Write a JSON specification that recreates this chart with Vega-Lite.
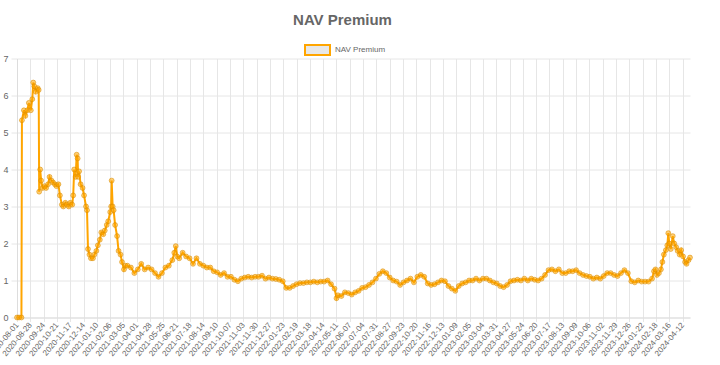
{
"$schema": "https://vega.github.io/schema/vega-lite/v6.json",
"width": 673, "height": 259,
"autosize": "none",
"padding": {"left": 17, "top": 58.5, "right": 30, "bottom": 47.5},
"background": "white",
"title": {"text": "NAV Premium", "fontSize": 15, "fontWeight": "bold", "color": "#666666", "font": "Liberation Sans", "offset": 9, "dx": -11},
"config": {"view": {"stroke": null}, "font": "Liberation Sans"},
"data": {"values": [
{"date":"2020-08-01","premium":0},{"date":"2020-08-05","premium":0},{"date":"2020-08-10","premium":0},{"date":"2020-08-11","premium":5.33},
{"date":"2020-08-15","premium":5.6},{"date":"2020-08-18","premium":5.45},{"date":"2020-08-22","premium":5.6},{"date":"2020-08-25","premium":5.8},
{"date":"2020-08-29","premium":5.6},{"date":"2020-09-01","premium":5.9},{"date":"2020-09-03","premium":6.35},{"date":"2020-09-05","premium":6.25},
{"date":"2020-09-08","premium":6.1},{"date":"2020-09-12","premium":6.2},{"date":"2020-09-14","premium":6.15},{"date":"2020-09-15","premium":3.4},
{"date":"2020-09-17","premium":4.0},{"date":"2020-09-19","premium":3.7},{"date":"2020-09-22","premium":3.5},{"date":"2020-09-26","premium":3.55},
{"date":"2020-09-29","premium":3.5},{"date":"2020-10-03","premium":3.6},{"date":"2020-10-06","premium":3.8},{"date":"2020-10-10","premium":3.7},
{"date":"2020-10-13","premium":3.65},{"date":"2020-10-17","premium":3.6},{"date":"2020-10-20","premium":3.55},{"date":"2020-10-24","premium":3.6},
{"date":"2020-10-27","premium":3.3},{"date":"2020-10-31","premium":3.05},{"date":"2020-11-03","premium":3.0},{"date":"2020-11-07","premium":3.1},
{"date":"2020-11-10","premium":3.05},{"date":"2020-11-14","premium":3.0},{"date":"2020-11-17","premium":3.1},{"date":"2020-11-21","premium":3.05},
{"date":"2020-11-23","premium":3.3},{"date":"2020-11-25","premium":4.0},{"date":"2020-11-28","premium":3.8},{"date":"2020-11-30","premium":4.4},
{"date":"2020-12-02","premium":4.3},{"date":"2020-12-03","premium":3.8},{"date":"2020-12-05","premium":3.95},{"date":"2020-12-08","premium":3.6},
{"date":"2020-12-12","premium":3.5},{"date":"2020-12-15","premium":3.3},{"date":"2020-12-19","premium":3.0},{"date":"2020-12-21","premium":2.9},
{"date":"2020-12-23","premium":1.85},{"date":"2020-12-26","premium":1.7},{"date":"2020-12-29","premium":1.6},{"date":"2021-01-02","premium":1.6},
{"date":"2021-01-05","premium":1.7},{"date":"2021-01-09","premium":1.8},{"date":"2021-01-12","premium":1.95},{"date":"2021-01-16","premium":2.1},
{"date":"2021-01-19","premium":2.3},{"date":"2021-01-23","premium":2.25},{"date":"2021-01-26","premium":2.35},{"date":"2021-01-30","premium":2.5},
{"date":"2021-02-02","premium":2.6},{"date":"2021-02-06","premium":2.85},{"date":"2021-02-08","premium":3.0},{"date":"2021-02-09","premium":3.7},
{"date":"2021-02-11","premium":3.0},{"date":"2021-02-13","premium":2.9},{"date":"2021-02-16","premium":2.5},{"date":"2021-02-20","premium":2.2},
{"date":"2021-02-23","premium":1.8},{"date":"2021-02-27","premium":1.7},{"date":"2021-03-02","premium":1.5},{"date":"2021-03-06","premium":1.3},
{"date":"2021-03-09","premium":1.4},{"date":"2021-03-13","premium":1.4},{"date":"2021-03-20","premium":1.35},{"date":"2021-03-27","premium":1.2},
{"date":"2021-04-03","premium":1.3},{"date":"2021-04-10","premium":1.45},{"date":"2021-04-17","premium":1.3},{"date":"2021-04-24","premium":1.35},
{"date":"2021-05-01","premium":1.3},{"date":"2021-05-08","premium":1.2},{"date":"2021-05-15","premium":1.1},{"date":"2021-05-22","premium":1.2},
{"date":"2021-05-29","premium":1.35},{"date":"2021-06-05","premium":1.4},{"date":"2021-06-12","premium":1.55},{"date":"2021-06-16","premium":1.75},
{"date":"2021-06-19","premium":1.93},{"date":"2021-06-22","premium":1.65},{"date":"2021-06-26","premium":1.6},{"date":"2021-07-03","premium":1.75},
{"date":"2021-07-10","premium":1.65},{"date":"2021-07-17","premium":1.6},{"date":"2021-07-24","premium":1.45},{"date":"2021-07-31","premium":1.6},
{"date":"2021-08-07","premium":1.45},{"date":"2021-08-14","premium":1.4},{"date":"2021-08-21","premium":1.35},{"date":"2021-08-28","premium":1.35},
{"date":"2021-09-04","premium":1.25},{"date":"2021-09-11","premium":1.22},{"date":"2021-09-18","premium":1.15},{"date":"2021-09-25","premium":1.2},
{"date":"2021-10-02","premium":1.1},{"date":"2021-10-09","premium":1.1},{"date":"2021-10-16","premium":1.02},{"date":"2021-10-23","premium":0.98},
{"date":"2021-10-30","premium":1.05},{"date":"2021-11-06","premium":1.08},{"date":"2021-11-13","premium":1.1},{"date":"2021-11-20","premium":1.08},
{"date":"2021-11-27","premium":1.1},{"date":"2021-12-04","premium":1.1},{"date":"2021-12-11","premium":1.13},{"date":"2021-12-18","premium":1.05},
{"date":"2021-12-25","premium":1.08},{"date":"2022-01-01","premium":1.05},{"date":"2022-01-08","premium":1.04},{"date":"2022-01-15","premium":1.02},
{"date":"2022-01-22","premium":0.98},{"date":"2022-01-29","premium":0.8},{"date":"2022-02-05","premium":0.8},{"date":"2022-02-12","premium":0.85},
{"date":"2022-02-19","premium":0.9},{"date":"2022-02-26","premium":0.93},{"date":"2022-03-05","premium":0.93},{"date":"2022-03-12","premium":0.95},
{"date":"2022-03-19","premium":0.95},{"date":"2022-03-26","premium":0.97},{"date":"2022-04-02","premium":0.95},{"date":"2022-04-09","premium":0.97},
{"date":"2022-04-16","premium":0.97},{"date":"2022-04-23","premium":1.0},{"date":"2022-04-30","premium":0.9},{"date":"2022-05-07","premium":0.78},
{"date":"2022-05-11","premium":0.52},{"date":"2022-05-14","premium":0.6},{"date":"2022-05-21","premium":0.58},{"date":"2022-05-28","premium":0.68},
{"date":"2022-06-04","premium":0.66},{"date":"2022-06-11","premium":0.62},{"date":"2022-06-18","premium":0.68},{"date":"2022-06-25","premium":0.72},
{"date":"2022-07-02","premium":0.8},{"date":"2022-07-09","premium":0.82},{"date":"2022-07-16","premium":0.88},{"date":"2022-07-23","premium":0.95},
{"date":"2022-07-30","premium":1.05},{"date":"2022-08-06","premium":1.18},{"date":"2022-08-13","premium":1.25},{"date":"2022-08-20","premium":1.2},
{"date":"2022-08-27","premium":1.08},{"date":"2022-09-03","premium":1.0},{"date":"2022-09-10","premium":0.97},{"date":"2022-09-17","premium":0.88},
{"date":"2022-09-24","premium":0.95},{"date":"2022-10-01","premium":1.0},{"date":"2022-10-08","premium":1.05},{"date":"2022-10-15","premium":0.95},
{"date":"2022-10-22","premium":1.1},{"date":"2022-10-29","premium":1.15},{"date":"2022-11-05","premium":1.1},{"date":"2022-11-12","premium":0.92},
{"date":"2022-11-19","premium":0.88},{"date":"2022-11-26","premium":0.9},{"date":"2022-12-03","premium":0.95},{"date":"2022-12-10","premium":1.0},
{"date":"2022-12-17","premium":0.98},{"date":"2022-12-24","premium":0.85},{"date":"2022-12-31","premium":0.78},{"date":"2023-01-07","premium":0.72},
{"date":"2023-01-14","premium":0.85},{"date":"2023-01-21","premium":0.92},{"date":"2023-01-28","premium":0.95},{"date":"2023-02-04","premium":1.0},
{"date":"2023-02-11","premium":1.0},{"date":"2023-02-18","premium":1.05},{"date":"2023-02-25","premium":1.0},{"date":"2023-03-04","premium":1.05},
{"date":"2023-03-11","premium":1.05},{"date":"2023-03-18","premium":1.0},{"date":"2023-03-25","premium":0.95},{"date":"2023-04-01","premium":0.92},
{"date":"2023-04-08","premium":0.85},{"date":"2023-04-15","premium":0.82},{"date":"2023-04-22","premium":0.88},{"date":"2023-04-29","premium":0.98},
{"date":"2023-05-06","premium":1.0},{"date":"2023-05-13","premium":1.02},{"date":"2023-05-20","premium":1.0},{"date":"2023-05-27","premium":1.05},
{"date":"2023-06-03","premium":1.0},{"date":"2023-06-10","premium":1.05},{"date":"2023-06-17","premium":1.02},{"date":"2023-06-24","premium":1.0},
{"date":"2023-07-01","premium":1.05},{"date":"2023-07-08","premium":1.15},{"date":"2023-07-15","premium":1.28},{"date":"2023-07-22","premium":1.3},
{"date":"2023-07-29","premium":1.25},{"date":"2023-08-05","premium":1.3},{"date":"2023-08-12","premium":1.2},{"date":"2023-08-19","premium":1.2},
{"date":"2023-08-26","premium":1.25},{"date":"2023-09-02","premium":1.25},{"date":"2023-09-09","premium":1.28},{"date":"2023-09-16","premium":1.2},
{"date":"2023-09-23","premium":1.15},{"date":"2023-09-30","premium":1.12},{"date":"2023-10-07","premium":1.1},{"date":"2023-10-14","premium":1.05},
{"date":"2023-10-21","premium":1.08},{"date":"2023-10-28","premium":1.05},{"date":"2023-11-04","premium":1.12},{"date":"2023-11-11","premium":1.2},
{"date":"2023-11-18","premium":1.2},{"date":"2023-11-25","premium":1.15},{"date":"2023-12-02","premium":1.12},{"date":"2023-12-09","premium":1.2},
{"date":"2023-12-16","premium":1.28},{"date":"2023-12-23","premium":1.2},{"date":"2023-12-30","premium":0.98},{"date":"2024-01-06","premium":0.95},
{"date":"2024-01-13","premium":1.0},{"date":"2024-01-20","premium":0.97},{"date":"2024-01-27","premium":0.97},{"date":"2024-02-03","premium":0.97},
{"date":"2024-02-10","premium":1.05},{"date":"2024-02-14","premium":1.25},{"date":"2024-02-17","premium":1.3},{"date":"2024-02-20","premium":1.15},
{"date":"2024-02-24","premium":1.2},{"date":"2024-02-28","premium":1.3},{"date":"2024-03-02","premium":1.5},{"date":"2024-03-05","premium":1.7},
{"date":"2024-03-09","premium":1.82},{"date":"2024-03-12","premium":1.95},{"date":"2024-03-14","premium":2.28},{"date":"2024-03-16","premium":2.0},
{"date":"2024-03-19","premium":1.85},{"date":"2024-03-23","premium":2.2},{"date":"2024-03-26","premium":2.0},{"date":"2024-03-30","premium":1.9},
{"date":"2024-04-02","premium":1.8},{"date":"2024-04-06","premium":1.7},{"date":"2024-04-09","premium":1.82},{"date":"2024-04-13","premium":1.65},
{"date":"2024-04-17","premium":1.5},{"date":"2024-04-20","premium":1.45},{"date":"2024-04-24","premium":1.55},{"date":"2024-04-27","premium":1.62}
]},
"encoding": {
  "x": {"field": "date", "type": "temporal",
    "scale": {"type": "utc", "domain": [{"year":2020,"month":8,"date":1,"utc":true},{"year":2024,"month":4,"date":27,"utc":true}]},
    "axis": {"title": null, "format": "%Y-%m-%d", "labelAngle": -50, "labelFontSize": 8, "labelColor": "#666666",
      "gridColor": "#e6e6e6", "domainColor": "#dddddd", "tickColor": "#e6e6e6", "tickSize": 4, "labelPadding": 2, "labelOverlap": false, "labelFlush": false,
      "values": [
        {"year":2020,"month":8,"date":1,"utc":true},{"year":2020,"month":8,"date":28,"utc":true},{"year":2020,"month":9,"date":24,"utc":true},
        {"year":2020,"month":10,"date":21,"utc":true},{"year":2020,"month":11,"date":17,"utc":true},{"year":2020,"month":12,"date":14,"utc":true},
        {"year":2021,"month":1,"date":10,"utc":true},{"year":2021,"month":2,"date":6,"utc":true},{"year":2021,"month":3,"date":5,"utc":true},
        {"year":2021,"month":4,"date":1,"utc":true},{"year":2021,"month":4,"date":28,"utc":true},{"year":2021,"month":5,"date":25,"utc":true},
        {"year":2021,"month":6,"date":21,"utc":true},{"year":2021,"month":7,"date":18,"utc":true},{"year":2021,"month":8,"date":14,"utc":true},
        {"year":2021,"month":9,"date":10,"utc":true},{"year":2021,"month":10,"date":7,"utc":true},{"year":2021,"month":11,"date":3,"utc":true},
        {"year":2021,"month":11,"date":30,"utc":true},{"year":2021,"month":12,"date":27,"utc":true},{"year":2022,"month":1,"date":23,"utc":true},
        {"year":2022,"month":2,"date":19,"utc":true},{"year":2022,"month":3,"date":18,"utc":true},{"year":2022,"month":4,"date":14,"utc":true},
        {"year":2022,"month":5,"date":11,"utc":true},{"year":2022,"month":6,"date":7,"utc":true},{"year":2022,"month":7,"date":4,"utc":true},
        {"year":2022,"month":7,"date":31,"utc":true},{"year":2022,"month":8,"date":27,"utc":true},{"year":2022,"month":9,"date":23,"utc":true},
        {"year":2022,"month":10,"date":20,"utc":true},{"year":2022,"month":11,"date":16,"utc":true},{"year":2022,"month":12,"date":13,"utc":true},
        {"year":2023,"month":1,"date":9,"utc":true},{"year":2023,"month":2,"date":5,"utc":true},{"year":2023,"month":3,"date":4,"utc":true},
        {"year":2023,"month":3,"date":31,"utc":true},{"year":2023,"month":4,"date":27,"utc":true},{"year":2023,"month":5,"date":24,"utc":true},
        {"year":2023,"month":6,"date":20,"utc":true},{"year":2023,"month":7,"date":17,"utc":true},{"year":2023,"month":8,"date":13,"utc":true},
        {"year":2023,"month":9,"date":9,"utc":true},{"year":2023,"month":10,"date":6,"utc":true},{"year":2023,"month":11,"date":2,"utc":true},
        {"year":2023,"month":11,"date":29,"utc":true},{"year":2023,"month":12,"date":26,"utc":true},{"year":2024,"month":1,"date":22,"utc":true},
        {"year":2024,"month":2,"date":18,"utc":true},{"year":2024,"month":3,"date":16,"utc":true},{"year":2024,"month":4,"date":12,"utc":true}
      ]}},
  "y": {"field": "premium", "type": "quantitative",
    "scale": {"domain": [0, 7], "nice": false, "zero": true},
    "axis": {"title": null, "values": [0,1,2,3,4,5,6,7], "labelFontSize": 9, "labelColor": "#666666", "gridColor": "#e6e6e6",
      "domainColor": "#dddddd", "tickColor": "#e6e6e6", "tickSize": 6, "labelPadding": 3}}
},
"layer": [
  {"mark": {"type": "line", "strokeWidth": 2, "interpolate": "linear"},
   "encoding": {"stroke": {"datum": "NAV Premium", "type": "nominal", "scale": {"range": ["#FFA500"]},
    "legend": {"title": null, "orient": "none", "legendX": 287, "legendY": -22, "labelFontSize": 8, "labelColor": "#666666",
      "symbolType": "M-1,-0.4H1V0.4H-1Z", "symbolSize": 625, "symbolFillColor": "#e8e8e8", "symbolStrokeWidth": 2,
      "encode": {"symbols": {"enter": {"fill": {"value": "#e8e8e8"}}, "update": {"fill": {"value": "#e8e8e8"}, "stroke": {"value": "#FFA500"}, "strokeWidth": {"value": 2}, "opacity": {"value": 1}, "fillOpacity": {"value": 1}}}}}}}},
  {"mark": {"type": "point", "filled": true, "size": 24, "color": "#FFA500", "fillOpacity": 0.55, "stroke": "#d98c00", "strokeWidth": 0.8, "strokeOpacity": 0.7}}
]
}
